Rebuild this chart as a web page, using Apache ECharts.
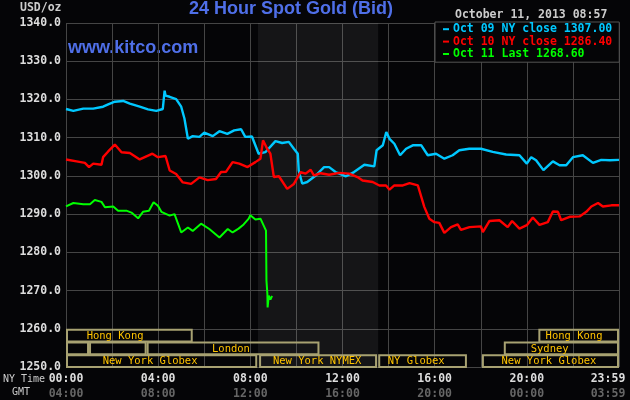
<!DOCTYPE html>
<html>
<head>
<meta charset="utf-8">
<script src="https://cdn.jsdelivr.net/npm/echarts@6/dist/echarts.min.js"></script>
<style>
html,body{margin:0;padding:0;background:#050507;}
#chart{width:630px;height:400px;}
</style>
</head>
<body>
<div id="chart"></div>
<script>
// ---- data (hours NY time, price USD/oz) ----
var seriesNames = ['Oct 09 NY close 1307.00', 'Oct 10 NY close 1286.40', 'Oct 11 Last 1268.60'];
var seriesColors = ['#00c8ff', '#ff0000', '#00ff00'];

var oct09 = [
  [0,1317.5],[0.32,1317.0],[0.75,1317.6],[1.18,1317.6],[1.61,1318.1],[1.83,1318.7],[2.12,1319.4],[2.48,1319.6],
  [2.77,1318.9],[3.2,1318.1],[3.56,1317.4],[3.92,1317.0],[4.2,1317.5],[4.26,1317.6],[4.28,1322.3],[4.32,1321.0],
  [4.5,1320.7],[4.78,1320.1],[5.0,1318.1],[5.14,1315.0],[5.29,1309.7],[5.5,1310.4],[5.79,1310.2],[6.0,1311.3],
  [6.37,1310.4],[6.66,1311.7],[7.0,1311.0],[7.3,1311.9],[7.6,1312.2],[7.78,1310.2],[8.07,1310.3],[8.36,1305.8],
  [8.65,1306.2],[9.09,1309.1],[9.38,1308.6],[9.67,1308.9],[9.89,1307.1],[10.06,1305.8],[10.1,1301.4],[10.25,1298.0],
  [10.47,1298.4],[10.84,1300.1],[11.2,1302.3],[11.42,1302.3],[11.7,1301.0],[12.15,1299.9],[12.5,1301.0],[12.95,1302.9],
  [13.38,1302.5],[13.48,1306.7],[13.75,1308.0],[13.9,1311.5],[14.04,1309.7],[14.25,1308.4],[14.5,1305.4],[14.76,1307.1],
  [15.05,1308.0],[15.42,1308.0],[15.7,1305.4],[16.06,1305.8],[16.42,1304.5],[16.78,1305.4],[17.07,1306.7],[17.5,1307.1],
  [18.01,1307.1],[18.52,1306.3],[19.1,1305.6],[19.68,1305.4],[20.0,1303.2],[20.19,1304.9],[20.4,1304.1],[20.72,1301.5],
  [21.13,1303.8],[21.42,1302.8],[21.71,1302.8],[22.0,1304.9],[22.43,1305.4],[22.87,1303.4],[23.23,1304.2],[23.6,1304.1],[24.0,1304.2]
];

var oct10 = [
  [0,1304.3],[0.46,1303.8],[0.82,1303.4],[1.0,1302.3],[1.18,1303.2],[1.54,1302.9],[1.61,1304.9],[1.83,1306.4],
  [2.12,1308.2],[2.41,1306.2],[2.77,1306.0],[3.2,1304.3],[3.49,1305.1],[3.75,1305.8],[3.99,1304.9],[4.32,1305.2],
  [4.5,1301.4],[4.78,1300.5],[5.07,1298.3],[5.43,1297.9],[5.79,1299.6],[6.15,1298.9],[6.51,1299.2],[6.73,1301.0],
  [6.95,1301.1],[7.23,1303.6],[7.52,1303.2],[7.88,1302.3],[8.22,1303.6],[8.44,1304.5],[8.55,1309.3],[8.73,1307.1],
  [8.87,1305.8],[9.02,1299.7],[9.24,1299.9],[9.6,1296.6],[9.89,1297.9],[10.18,1301.0],[10.4,1300.6],[10.62,1301.6],
  [10.76,1300.1],[11.05,1300.7],[11.42,1300.3],[11.85,1300.8],[12.29,1300.6],[12.65,1299.7],[12.87,1298.8],[13.31,1298.4],
  [13.6,1297.5],[13.89,1297.5],[14.04,1296.4],[14.25,1297.5],[14.62,1297.5],[14.91,1298.1],[15.27,1297.5],[15.42,1294.5],
  [15.55,1291.9],[15.77,1288.8],[15.99,1287.9],[16.2,1287.7],[16.42,1285.1],[16.71,1286.6],[17.0,1287.3],[17.14,1285.9],
  [17.51,1286.6],[18.01,1286.8],[18.09,1285.3],[18.38,1288.2],[18.81,1288.4],[19.17,1286.6],[19.36,1288.2],[19.68,1286.2],
  [20.0,1287.1],[20.26,1289.1],[20.55,1287.2],[20.91,1287.9],[21.13,1290.7],[21.35,1290.6],[21.49,1288.4],[21.86,1289.3],
  [22.29,1289.4],[22.58,1290.6],[22.8,1292.0],[23.09,1292.9],[23.3,1292.0],[23.67,1292.3],[24.0,1292.3]
];

var oct11 = [
  [0,1292.0],[0.32,1292.9],[0.75,1292.6],[1.04,1292.6],[1.25,1293.7],[1.54,1293.2],[1.69,1291.8],[2.05,1292.0],
  [2.26,1290.9],[2.62,1290.9],[2.84,1290.4],[3.13,1288.9],[3.34,1290.6],[3.6,1290.9],[3.8,1293.1],[3.99,1292.2],
  [4.14,1290.6],[4.5,1289.6],[4.71,1290.0],[5.0,1285.2],[5.29,1286.5],[5.5,1285.6],[5.86,1287.5],[6.22,1286.1],
  [6.66,1283.9],[7.02,1286.1],[7.23,1285.2],[7.49,1286.2],[7.71,1287.3],[7.93,1288.8],[8.0,1289.7],[8.22,1288.6],
  [8.44,1288.8],[8.58,1287.0],[8.68,1285.7],[8.7,1272.6],[8.74,1269.1],[8.75,1265.6],[8.8,1268.7],[8.87,1267.6],[8.92,1268.3],[8.95,1268.6]
];

// NYMEX floor shading (hours)
var shadeRange = [8.33, 13.55];

// trading sessions: row, start hour, end hour, label, label centre hour
var sessionRow   = [0, 0, 1, 1, 1, 1, 2, 2, 2, 2];
var sessionStart = [0, 20.5, 0, 1.0, 3.5, 19.0, 0, 8.38, 13.55, 18.05];
var sessionEnd   = [5.5, 24, 1.0, 3.5, 11.0, 24, 8.3, 13.5, 17.4, 24];
var sessionLabel = ['Hong Kong', 'Hong Kong', '', '', 'London', 'Sydney', 'New York Globex', 'New York NYMEX', 'NY Globex', 'New York Globex'];
var sessionLabelAt = [2.13, 22.05, 0.5, 2.25, 7.16, 20.99, 3.65, 10.9, 15.2, 20.96];

// tick labels
var nyTimeLabels  = {0:'00:00', 4:'04:00', 8:'08:00', 12:'12:00', 16:'16:00', 20:'20:00', 24:'23:59'};
var gmtTimeLabels = {0:'04:00', 4:'08:00', 8:'12:00', 12:'16:00', 16:'20:00', 20:'00:00', 24:'03:59'};

var mono = 'DejaVu Sans Mono';

var sessionData = sessionRow.map(function (r, i) {
  return [r, sessionStart[i], sessionEnd[i], sessionLabelAt[i], sessionLabel[i]];
});

var chart = echarts.init(document.getElementById('chart'));

var lineSeries = [oct09, oct10, oct11].map(function (d, i) {
  var s = {
    name: seriesNames[i],
    type: 'line',
    data: d,
    showSymbol: false,
    symbol: 'none',
    animation: false,
    z: 5,
    lineStyle: { color: seriesColors[i], width: i === 2 ? 2 : 2.4 },
    itemStyle: { color: seriesColors[i] }
  };
  if (i === 0) {
    s.markArea = {
      silent: true,
      itemStyle: { color: 'rgba(255,255,255,0.065)' },
      data: [[{ xAxis: shadeRange[0] }, { xAxis: shadeRange[1] }]]
    };
  }
  return s;
});

var option = {
  backgroundColor: '#050507',
  animation: false,
  title: {
    text: '24 Hour Spot Gold (Bid)',
    left: 189, top: 0, padding: 0,
    textStyle: { color: '#4f6fe8', fontFamily: 'Liberation Sans', fontWeight: 'bold', fontSize: 18 }
  },
  grid: { left: 66, top: 23, width: 553, height: 344, show: false, containLabel: false, outerBoundsMode: 'none' },
  legend: {
    orient: 'vertical',
    left: 435, top: 22,
    padding: [1, 7, 2, 8],
    itemWidth: 6, itemHeight: 2, itemGap: 0,
    icon: 'rect',
    backgroundColor: '#050507',
    borderColor: '#555',
    borderWidth: 1,
    selectedMode: false,
    textStyle: { fontFamily: mono, fontWeight: 'bold', fontSize: 11.5, lineHeight: 12.4, padding: [0, 0, 0, -1] },
    data: seriesNames.map(function (n, i) {
      return { name: n, textStyle: { color: seriesColors[i] }, itemStyle: { color: seriesColors[i] } };
    })
  },
  xAxis: {
    type: 'value', min: 0, max: 24, interval: 2,
    axisLine: { show: false }, axisTick: { show: false },
    splitLine: { show: true, lineStyle: { color: '#454545', width: 1 } },
    axisLabel: {
      margin: 5,
      formatter: function (v) {
        if (nyTimeLabels[v] === undefined) return '';
        if (v === 24) return '{e|' + nyTimeLabels[v] + '}\n{f|' + gmtTimeLabels[v] + '}';
        return '{a|' + nyTimeLabels[v] + '}\n{b|' + gmtTimeLabels[v] + '}';
      },
      rich: {
        a: { color: '#dddddd', fontFamily: mono, fontWeight: 'bold', fontSize: 11.5, lineHeight: 15 },
        b: { color: '#666666', fontFamily: mono, fontWeight: 'bold', fontSize: 11.5, lineHeight: 15 },
        e: { color: '#dddddd', fontFamily: mono, fontWeight: 'bold', fontSize: 11.5, lineHeight: 15, padding: [0, 22, 0, 0] },
        f: { color: '#666666', fontFamily: mono, fontWeight: 'bold', fontSize: 11.5, lineHeight: 15, padding: [0, 22, 0, 0] }
      }
    }
  },
  yAxis: {
    type: 'value', min: 1250, max: 1340, interval: 10,
    axisLine: { show: false }, axisTick: { show: false },
    splitLine: { show: true, lineStyle: { color: '#454545', width: 1 } },
    axisLabel: {
      margin: 5,
      color: '#dddddd', fontFamily: mono, fontWeight: 'bold', fontSize: 11.5,
      formatter: function (v) { return v.toFixed(1); }
    }
  },
  graphic: [
    { type: 'text', left: 20, top: 2, style: { text: 'USD/oz', fill: '#cccccc', font: 'bold 11.5px "DejaVu Sans Mono"' } },
    { type: 'text', left: 68, top: 39, style: { text: 'www.kitco.com', fill: '#4f6fe8', font: 'bold 18px "Liberation Sans"' } },
    { type: 'text', left: 455, top: 9, style: { text: 'October 11, 2013 08:57', fill: '#cccccc', font: 'bold 11.5px "DejaVu Sans Mono"' } },
    { type: 'text', left: 3, top: 374, style: { text: 'NY Time', fill: '#cccccc', font: '10px "DejaVu Sans Mono"' } },
    { type: 'text', left: 12, top: 387, style: { text: 'GMT', fill: '#cccccc', font: '10px "DejaVu Sans Mono"' } }
  ],
  series: lineSeries.concat([{
    type: 'custom',
    name: 'sessions',
    data: sessionData,
    clip: false,
    z: 4,
    silent: true,
    renderItem: function (params, api) {
      var row = api.value(0);
      var top = 1260 - row * 10 / 3;
      var bottom = top - 10 / 3;
      var p1 = api.coord([api.value(1), top]);
      var p2 = api.coord([api.value(2), bottom]);
      var pc = api.coord([api.value(3), (top + bottom) / 2]);
      var label = sessionData[params.dataIndex][4];
      return {
        type: 'group',
        children: [
          { type: 'rect', shape: { x: p1[0] + 1, y: p1[1] + 1, width: p2[0] - p1[0] - 2, height: p2[1] - p1[1] - 1 },
            style: { fill: null, stroke: '#a8a272', lineWidth: 2 } },
          { type: 'text', style: { text: label, x: pc[0], y: pc[1] + 1, align: 'center', verticalAlign: 'middle',
            fill: '#ffc400', font: '10.5px "DejaVu Sans Mono"' } }
        ]
      };
    }
  }])
};
chart.setOption(option);
</script>
</body>
</html>
